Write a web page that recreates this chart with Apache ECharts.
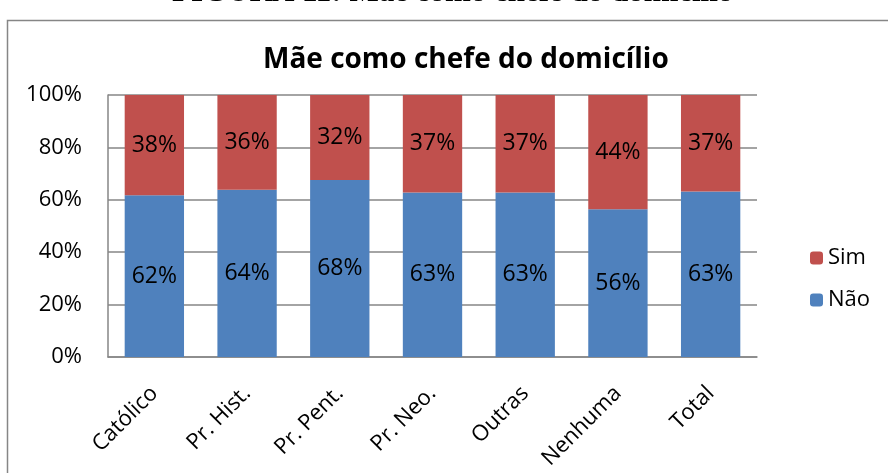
<!DOCTYPE html>
<html>
<head>
<meta charset="utf-8">
<script src="https://cdn.jsdelivr.net/npm/echarts@6/dist/echarts.min.js"></script>
<style>
html,body{margin:0;padding:0;background:#fff;}
#main{width:888px;height:473px;}
</style>
</head>
<body>
<div id="main"></div>
<script>
// dados
var categorias = ['Católico', 'Pr. Hist.', 'Pr. Pent.', 'Pr. Neo.', 'Outras', 'Nenhuma', 'Total'];
var nao = [61.7, 63.8, 67.6, 62.8, 62.8, 56.4, 63.2];
var sim = [38.3, 36.2, 32.4, 37.2, 37.2, 43.6, 36.8];
var yTicks = [0, 20, 40, 60, 80, 100];

var fonte = '"Open Sans", "Noto Sans", sans-serif';
var myChart = echarts.init(document.getElementById('main'));

function rotulo(p){
    return Math.round(p.value) + '%';
}

var option = {
    backgroundColor: '#fff',
    animation: false,
    title: {
        text: 'Mãe como chefe do domicílio',
        left: 258,
        top: 41,
        textStyle: {fontFamily: fonte, fontWeight: 'bold', fontSize: 28, color: '#000'}
    },
    graphic: [
        {
            type: 'text',
            left: 172,
            top: -23,
            style: {text: 'FIGURA 11: Mãe como chefe do domicílio', font: 'bold 31px "Liberation Serif", serif', fill: '#000'}
        },
        {
            type: 'rect',
            shape: {x: 7.5, y: 20.5, width: 900, height: 470},
            style: {fill: 'none', stroke: '#868686', lineWidth: 1.5},
            silent: true
        }
    ],
    legend: {
        orient: 'vertical',
        left: 805,
        top: 242,
        itemWidth: 13,
        itemHeight: 13,
        itemGap: 20,
        data: ['Sim', 'Não'],
        textStyle: {fontFamily: fonte, fontSize: 22, color: '#000'}
    },
    grid: {left: 108, right: 131, top: 95, bottom: 116},
    xAxis: {
        type: 'category',
        data: categorias,
        axisLine: {lineStyle: {color: '#868686', width: 1.5}},
        axisTick: {show: false},
        axisLabel: {
            rotate: 45,
            margin: 33,
            fontFamily: fonte,
            fontSize: 22,
            color: '#000'
        }
    },
    yAxis: {
        type: 'value',
        min: 0,
        max: 100,
        interval: 20,
        axisLine: {show: true, lineStyle: {color: '#868686', width: 1.5}},
        axisTick: {show: false},
        splitLine: {lineStyle: {color: '#868686', width: 1.5}},
        axisLabel: {
            margin: 26,
            fontFamily: fonte,
            fontSize: 22,
            color: '#000',
            formatter: function(v){ return yTicks.indexOf(v) >= 0 ? v + '%' : ''; }
        }
    },
    series: [
        {
            name: 'Não',
            type: 'bar',
            stack: 'total',
            barWidth: '64%',
            data: nao,
            itemStyle: {color: '#4F81BD'},
            label: {show: true, position: 'inside', formatter: rotulo, fontFamily: fonte, fontSize: 23, color: '#000'}
        },
        {
            name: 'Sim',
            type: 'bar',
            stack: 'total',
            data: sim,
            itemStyle: {color: '#C0504D'},
            label: {show: true, position: 'inside', formatter: rotulo, fontFamily: fonte, fontSize: 23, color: '#000'}
        }
    ]
};
myChart.setOption(option);
</script>
</body>
</html>
